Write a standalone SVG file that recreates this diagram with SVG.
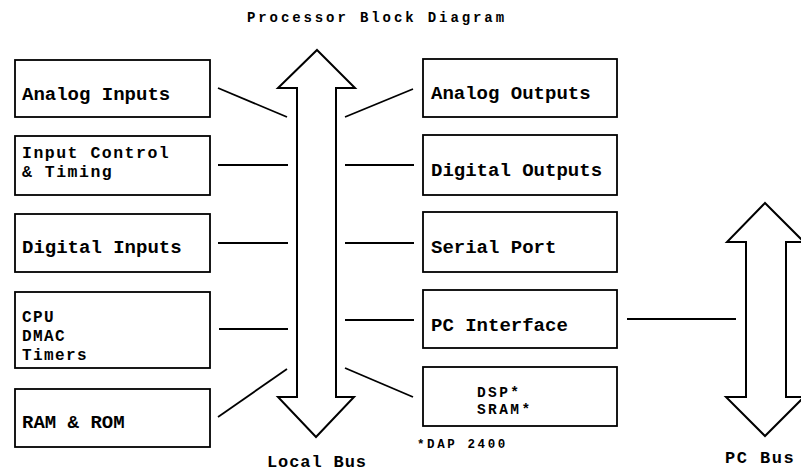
<svg xmlns="http://www.w3.org/2000/svg" width="801" height="472" viewBox="0 0 801 472">
<style>
.box{fill:#fff;stroke:#000;stroke-width:1.8}
.bus{fill:#fff;stroke:#000;stroke-width:2;stroke-linejoin:miter}
.con line{stroke:#000;stroke-width:1.8}
text{font-family:"Liberation Mono","DejaVu Sans Mono",monospace;font-weight:bold;fill:#000}
.t{font-size:19px}
.t2{font-size:16.5px;letter-spacing:1.5px}
.s{font-size:16px;letter-spacing:1.4px}
.d{font-size:14.5px;letter-spacing:2.4px}
</style>
<rect width="801" height="472" fill="#fff"/>
<text x="247" y="22" style="font-size:14px;letter-spacing:2.9px">Processor Block Diagram</text>

<g id="local-bus">
<polygon class="bus" points="317,50 355,88 336,88 336,397 354,397 316,437 278,397 297,397 297,88 278,88"/>
<text x="267" y="467" style="font-size:17px;letter-spacing:0.9px">Local Bus</text>
</g>
<g id="pc-bus">
<polygon class="bus" points="765,203 804,242 786,242 786,397 804,397 765,436 726,397 746,397 746,242 727,242"/>
<text x="725" y="463" style="font-size:17px;letter-spacing:1.5px">PC Bus</text>
</g>

<g id="analog-inputs"><rect class="box" x="15" y="60" width="195" height="57"/><text class="t" x="22" y="100">Analog Inputs</text></g>
<g id="input-control"><rect class="box" x="15" y="136" width="195" height="59"/><text class="t2" x="22" y="158">Input Control</text><text class="t2" x="22" y="177">&amp; Timing</text></g>
<g id="digital-inputs"><rect class="box" x="15" y="214" width="195" height="58"/><text class="t" x="22" y="253">Digital Inputs</text></g>
<g id="cpu"><rect class="box" x="15" y="292" width="195" height="76"/><text class="s" x="22" y="322">CPU</text><text class="s" x="22" y="341">DMAC</text><text class="s" x="22" y="360">Timers</text></g>
<g id="ram-rom"><rect class="box" x="15" y="389" width="195" height="58"/><text class="t" x="22" y="428">RAM &amp; ROM</text></g>

<g id="analog-outputs"><rect class="box" x="423" y="59" width="194" height="58"/><text class="t" x="431" y="99">Analog Outputs</text></g>
<g id="digital-outputs"><rect class="box" x="423" y="135" width="194" height="60"/><text class="t" x="431" y="176">Digital Outputs</text></g>
<g id="serial-port"><rect class="box" x="423" y="212" width="194" height="60"/><text class="t" x="431" y="253">Serial Port</text></g>
<g id="pc-interface"><rect class="box" x="423" y="290" width="194" height="58"/><text class="t" x="431" y="331">PC Interface</text></g>
<g id="dsp"><rect class="box" x="423" y="367" width="194" height="59"/><text class="d" x="477" y="397">DSP*</text><text class="d" x="477" y="414">SRAM*</text><text x="417" y="448" style="font-size:12.5px;letter-spacing:2.6px">*DAP 2400</text></g>

<g class="con" id="connectors">
<line x1="218" y1="88" x2="287" y2="117"/>
<line x1="218" y1="165" x2="288" y2="165"/>
<line x1="218" y1="243" x2="288" y2="243"/>
<line x1="219" y1="329" x2="288" y2="329"/>
<line x1="218" y1="417" x2="287" y2="369"/>
<line x1="345" y1="117" x2="413" y2="89"/>
<line x1="345" y1="165" x2="414" y2="165"/>
<line x1="345" y1="243" x2="414" y2="243"/>
<line x1="345" y1="320" x2="414" y2="320"/>
<line x1="345" y1="368" x2="413" y2="397"/>
<line x1="627" y1="319" x2="736" y2="319"/>
</g>
</svg>
